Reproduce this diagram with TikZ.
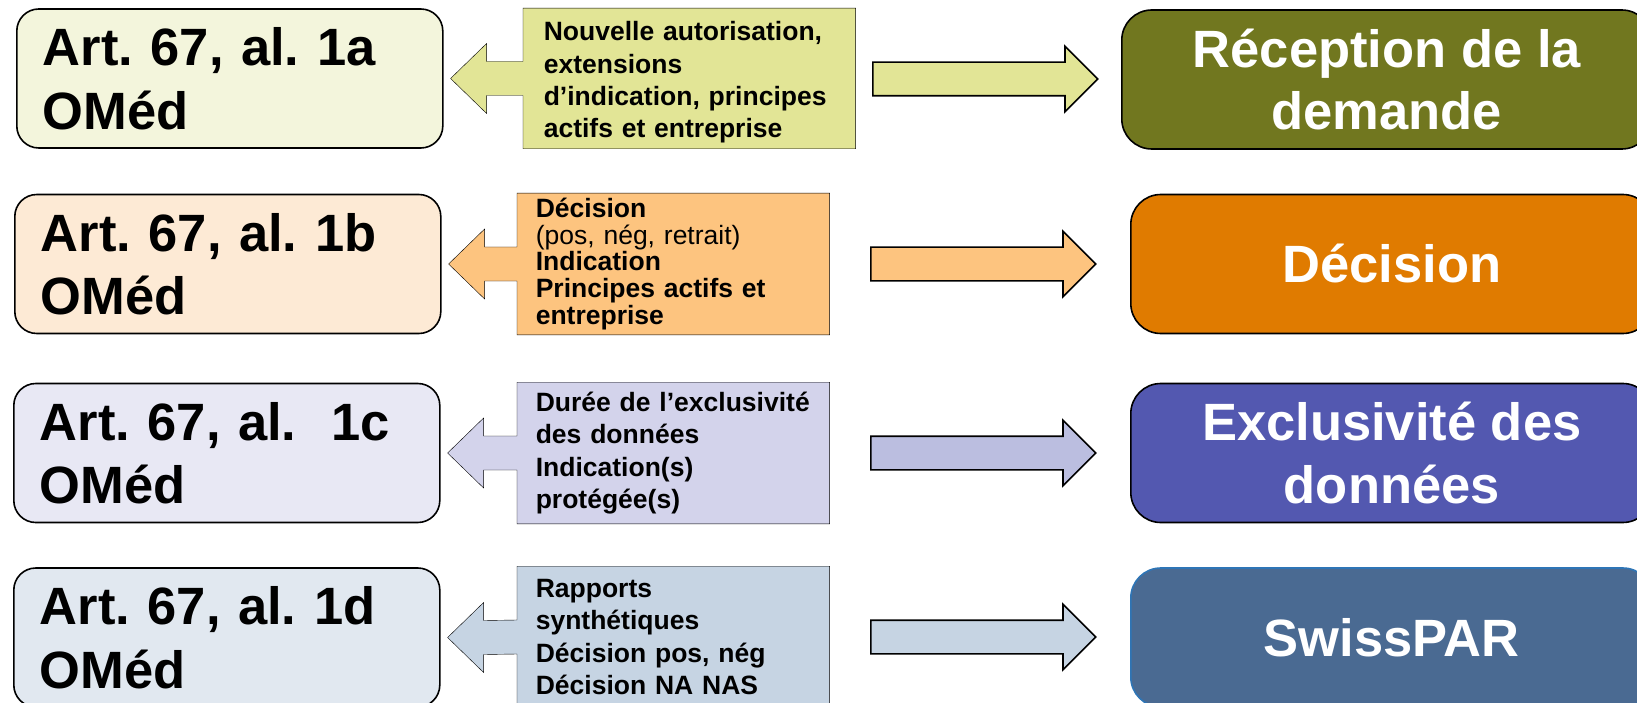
\documentclass[tikz,border=0pt]{standalone}
\usepackage{fontspec}
\setmainfont{Liberation Sans}
\usetikzlibrary{shapes.arrows,backgrounds}
\frenchspacing

\definecolor{artA}{HTML}{F3F5DC}
\definecolor{noteA}{HTML}{E2E596}
\definecolor{destA}{HTML}{71771F}
\definecolor{artB}{HTML}{FDEAD5}
\definecolor{noteB}{HTML}{FDC47F}
\definecolor{destB}{HTML}{E07B00}
\definecolor{artC}{HTML}{E8E8F4}
\definecolor{noteC}{HTML}{D3D3EB}
\definecolor{arrC}{HTML}{BBBEE0}
\definecolor{destC}{HTML}{5358B0}
\definecolor{artD}{HTML}{E1E8F0}
\definecolor{noteD}{HTML}{C6D4E3}
\definecolor{destD}{HTML}{4A6A92}
\definecolor{edgeD}{HTML}{2E75B6}

\begin{document}
\begin{tikzpicture}[x=1pt,y=-1pt,line width=1.6pt]
        \tikzstyle{art}=[draw, rounded corners=22pt, anchor=west, minimum width=426pt,
            minimum height=139pt, inner xsep=26pt, text width=374pt, align=left,
            font=\fontsize{52.5}{63.5}\selectfont\bfseries]
        \tikzstyle{note}=[anchor=west, minimum height=140pt, inner xsep=18pt, text width=275pt,
            align=left, font=\fontsize{26.5}{32.4}\selectfont\bfseries]
        \tikzstyle{dest}=[draw, rounded corners=30pt, anchor=west, minimum width=522pt,
            minimum height=139pt, text=white, align=center,
            font=\fontsize{52.5}{62.6}\selectfont\bfseries]
        \tikzstyle{push}=[draw, single arrow, single arrow head extend=16pt,
            minimum height=225pt, inner xsep=0pt, inner ysep=16pt, anchor=west]

        \path[use as bounding box, clip] (0,0) rectangle (1637,703);

        % articles
        \node[art, fill=artA] (art1) at (16,78.5)  {Art. 67, al. 1a\\OMéd};
        \node[art, fill=artB] (art2) at (14,264)   {Art. 67, al. 1b\\OMéd};
        \node[art, fill=artC] (art3) at (13,453)   {Art. 67, al.\ \ 1c\\OMéd};
        \node[art, fill=artD] (art4) at (13,637.5) {Art. 67, al. 1d\\OMéd};

        % callouts
        \node[note, text width=291pt, inner xsep=20pt, minimum height=139pt] (note1) at (523,78.5)
            {\rule{0pt}{27pt}Nouvelle autorisation,\\extensions\\d’indication, principes\\actifs et entreprise};
        \node[note, font=\fontsize{26.5}{26.6}\selectfont\bfseries] (note2) at (517,264)
            {Décision\\{\mdseries (pos, nég, retrait)}\\Indication\\Principes actifs et\\entreprise};
        \node[note] (note3) at (517,453)
            {Durée de l’exclusivité\\des données\\Indication(s)\\protégée(s)};
        \node[note] (note4) at (517,637)
            {Rapports\\synthétiques\\Décision pos, nég\\Décision NA NAS};

        \begin{scope}[on background layer]
            \foreach \i/\c in {1/noteA,2/noteB,3/noteC,4/noteD}
                \draw[fill=\c] (note\i.north east) -- (note\i.north west) -- ([yshift=17pt]note\i.west)
                    -- ([xshift=43pt,yshift=17pt]art\i.east) -- ([xshift=43pt,yshift=35pt]art\i.east)
                    -- ([xshift=7pt]art\i.east) -- ([xshift=43pt,yshift=-35pt]art\i.east)
                    -- ([xshift=43pt,yshift=-17pt]art\i.east) -- ([yshift=-17pt]note\i.west)
                    -- (note\i.south west) -- (note\i.south east) -- cycle;
        \end{scope}

        % arrows
        \node[push, fill=noteA] (arr1) at (872,79)  {};
        \node[push, fill=noteB] (arr2) at (870,264) {};
        \node[push, fill=arrC]  (arr3) at (870,453) {};
        \node[push, fill=noteD] (arr4) at (870,637) {};

        % targets
        \node[dest, fill=destA, minimum width=530pt] (dest1) at (1121,79.5) {Réception de la\\demande};
        \node[dest, fill=destB] (dest2) at (1130,264)   {Décision};
        \node[dest, fill=destC] (dest3) at (1130,453)   {Exclusivité des\\données};
        \node[dest, fill=destD, draw=edgeD] (dest4) at (1130,637.5) {SwissPAR};
\end{tikzpicture}
\end{document}
